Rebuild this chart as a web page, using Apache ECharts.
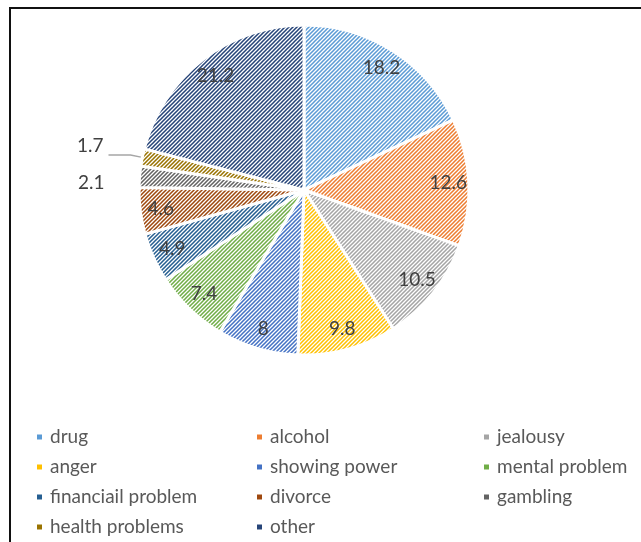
<!DOCTYPE html>
<html>
<head>
<meta charset="utf-8">
<script src="https://cdn.jsdelivr.net/npm/echarts@6/dist/echarts.min.js"></script>
<style>
  html, body { margin: 0; padding: 0; background: #fff; }
  #chart { position: absolute; left: 0; top: 0; width: 641px; height: 542px; }
  #frame { position: absolute; left: 9px; top: 7px; width: 640px; height: 540px;
           border-left: 2px solid #111; border-top: 2px solid #111; }
</style>
</head>
<body>
<div id="chart"></div>
<div id="frame"></div>
<script>
// data
const categories = ['drug', 'alcohol', 'jealousy', 'anger', 'showing power', 'mental problem',
  'financiail problem', 'divorce', 'gambling', 'health problems', 'other'];
const values = [18.2, 12.6, 10.5, 9.8, 8, 7.4, 4.9, 4.6, 2.1, 1.7, 21.2];
const colors = ['#5B9BD5', '#ED7D31', '#A5A5A5', '#FFC000', '#4472C4', '#70AD47',
  '#255E91', '#9E480E', '#636363', '#997300', '#264478'];

// slices with label outside the pie
const outside = ['gambling', 'health problems'];

// diagonal hatch fill like the office "wide upward diagonal" pattern
function hatch(color) {
  const c = document.createElement('canvas');
  c.width = 4; c.height = 4;
  const ctx = c.getContext('2d');
  ctx.fillStyle = '#ffffff';
  ctx.fillRect(0, 0, 4, 4);
  ctx.strokeStyle = color;
  ctx.lineWidth = 1.55;
  ctx.beginPath();
  ctx.moveTo(-1, 5); ctx.lineTo(5, -1);
  ctx.moveTo(-1, 1); ctx.lineTo(1, -1);
  ctx.moveTo(3, 5); ctx.lineTo(5, 3);
  ctx.stroke();
  return { image: c, repeat: 'repeat' };
}

const chart = echarts.init(document.getElementById('chart'));

const pieData = categories.map((name, i) => {
  const isOut = outside.indexOf(name) >= 0;
  return {
    name: name,
    value: values[i],
    itemStyle: { color: hatch(colors[i]) },
    label: { show: isOut },
    labelLine: { show: name === 'health problems' }
  };
});

// transparent ring only used to place the inner labels further out
const labelData = categories.map((name, i) => ({
  name: name,
  value: values[i],
  label: { show: outside.indexOf(name) < 0 }
}));

function legendFor(idx, left) {
  return {
    orient: 'vertical',
    left: left,
    top: 422,
    height: 118,
    icon: 'rect',
    itemWidth: 7,
    itemHeight: 7,
    itemGap: 10,
    selectedMode: false,
    textStyle: { fontFamily: 'Lato', fontSize: 19, color: '#595959', lineHeight: 20, padding: [0, 0, 0, 2] },
    data: idx.map(i => ({ name: categories[i], itemStyle: { color: colors[i] } }))
  };
}

chart.setOption({
  animation: false,
  backgroundColor: '#fff',
  legend: [
    legendFor([0, 3, 6, 9], 30),
    legendFor([1, 4, 7, 10], 250),
    legendFor([2, 5, 8], 477)
  ],
  series: [
    {
      type: 'pie',
      center: [304, 190],
      radius: [0, 165],
      startAngle: 90,
      clockwise: true,
      avoidLabelOverlap: false,
      itemStyle: { borderColor: '#fff', borderWidth: 3 },
      label: {
        position: 'outside',
        fontFamily: 'Lato',
        fontSize: 19,
        color: '#404040',
        formatter: '{c}'
      },
      labelLine: {
        length: 12,
        length2: 22,
        lineStyle: { color: '#a6a6a6', width: 1.5 }
      },
      labelLayout: function (p) {
        if (p.dataIndex === 9) return { dy: -9 };
        if (p.dataIndex === 8) return { dy: 7, dx: 4 };
        return {};
      },
      data: pieData
    },
    {
      type: 'pie',
      center: [304, 190],
      radius: [118, 165],
      startAngle: 90,
      clockwise: true,
      silent: true,
      avoidLabelOverlap: false,
      itemStyle: { color: 'rgba(0,0,0,0)' },
      label: {
        position: 'inside',
        fontFamily: 'Lato',
        fontSize: 19,
        color: '#404040',
        formatter: '{c}'
      },
      labelLine: { show: false },
      data: labelData
    }
  ]
});
</script>
</body>
</html>
